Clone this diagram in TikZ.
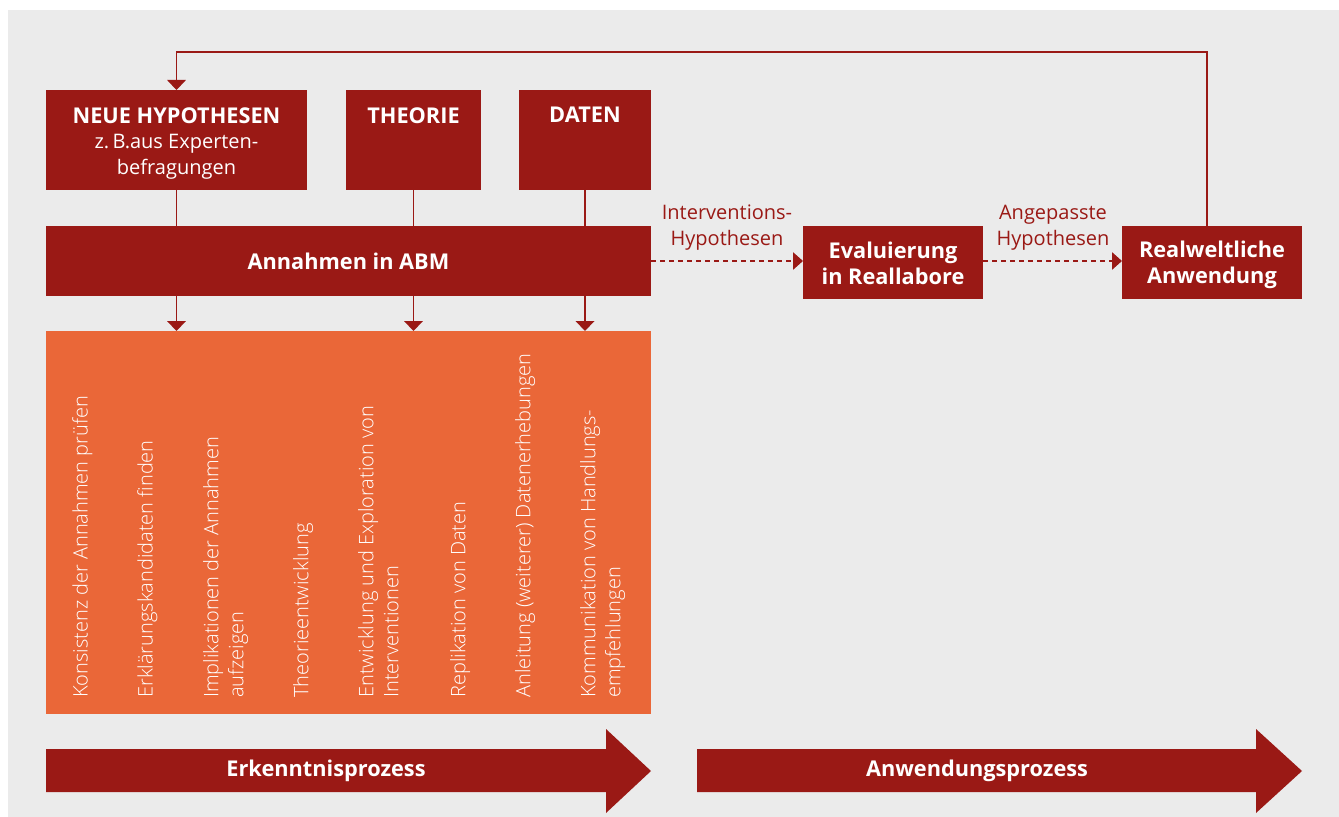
\documentclass[tikz,border=0pt]{standalone}
\usepackage{fontspec}
\setmainfont{Open Sans}
\newfontfamily\lightfont{Open Sans Light}
\usetikzlibrary{arrows.meta,fit}
\definecolor{abmred}{HTML}{9A1915}
\definecolor{abmorange}{HTML}{EA6738}
\definecolor{abmgray}{HTML}{EBEBEB}
\begin{document}
\begin{tikzpicture}[x=0.75pt,y=-0.75pt,
  redbox/.style={fill=abmred,draw=none,inner sep=0pt,outer sep=0pt},
  orangebox/.style={fill=abmorange,draw=none,inner sep=0pt,outer sep=0pt},
  boldtext/.style={text=white,inner sep=0pt,align=center,
    font=\fontsize{16.3}{19.5}\selectfont\bfseries},
  subtext/.style={text=white,inner sep=0pt,align=center,
    font=\fontsize{15}{19.5}\selectfont},
  edgetext/.style={text=abmred,inner sep=0pt,align=center,
    font=\fontsize{15}{19.5}\selectfont},
  vtext/.style={text=white,inner sep=0pt,align=left,rotate=90,anchor=north west,
    font=\lightfont\fontsize{15}{18.75}\selectfont},
  link/.style={draw=abmred,line width=1.1pt},
  feedback/.style={draw=abmred,line width=0.9pt},
  tip/.style={-{Triangle[width=14pt,length=7.5pt]}},
  dashlink/.style={draw=abmred,line width=1.2pt,dash pattern=on 3.75pt off 3pt,
    -{Triangle[width=13pt,length=7.5pt]}},
  bigarrow/.style={fill=abmred,draw=none}]

% canvas and grey panel
\useasboundingbox (0,0) rectangle (1339,817);
\fill[white] (0,0) rectangle (1339,817);
\fill[abmgray] (8,10) rectangle (1339,817);

% top row of sources
\node[redbox,fit={(46,90) (307,190)}] (nh) {};
\node[redbox,fit={(346,90) (481,190)}] (th) {};
\node[redbox,fit={(519,90) (651,190)}] (da) {};
\node[boldtext,anchor=north] (nhtitle) at (nh.center |- 0,107) {NEUE HYPOTHESEN};
\node[subtext,anchor=north] (nhsub) at (nh.center |- 0,134) {z.\,B.aus Experten-\\befragungen};
\node[boldtext,anchor=north] (thtitle) at (th.center |- 0,107) {THEORIE};
\node[boldtext,anchor=north] (datitle) at (da.center |- 0,107) {DATEN};

% assumptions bar
\node[redbox,fit={(46,226) (651,296)}] (abm) {};
\node[boldtext] (abmtitle) at (348.5,261) {Annahmen in ABM};

% application boxes
\node[redbox,fit={(803,226) (983,299)}] (ev) {};
\node[boldtext] (evtitle) at (893,263.5) {Evaluierung\\in Reallabore};
\node[redbox,fit={(1122,226) (1302,299)}] (rw) {};
\node[boldtext] (rwtitle) at (1212,265) {Realweltliche\\Anwendung};

% orange block of uses
\node[orangebox,fit={(46,331) (651,714)}] (uses) {};
\node[vtext] (u1) at (72,698) {Konsistenz der Annahmen prüfen};
\node[vtext] (u2) at (137,698) {Erklärungskandidaten finden};
\node[vtext] (u3) at (203,698) {Implikationen der Annahmen\\aufzeigen};
\node[vtext] (u4) at (293,698) {Theorieentwicklung};
\node[vtext] (u5) at (358,698) {Entwicklung und Exploration von\\Interventionen};
\node[vtext] (u6) at (450,698) {Replikation von Daten};
\node[vtext] (u7) at (515,698) {Anleitung (weiterer) Datenerhebungen};
\node[vtext] (u8) at (580,698) {Kommunikation von Handlungs-\\empfehlungen};

% sources feed the assumptions
\draw[link] (nh.south) -- (abm.north -| nh.south);
\draw[link] (th.south) -- (abm.north -| th.south);
\draw[link] (da.south) -- (abm.north -| da.south);
% assumptions feed the uses
\draw[link,tip] (abm.south -| nh.south) -- (uses.north -| nh.south);
\draw[link,tip] (abm.south -| th.south) -- (uses.north -| th.south);
\draw[link,tip] (abm.south -| da.south) -- (uses.north -| da.south);

% dashed chain to application
\draw[dashlink] (abm.east |- 0,261) -- (ev.west |- 0,261);
\draw[dashlink] (ev.east |- 0,261) -- (rw.west |- 0,261);
\node[edgetext] (l1) at (727,227.5) {Interventions-\\Hypothesen};
\node[edgetext] (l2) at (1053,227.5) {Angepasste\\Hypothesen};

% feedback loop back to new hypotheses
\coordinate (fbx) at (1207,0);
\draw[feedback,tip] (rw.north -| fbx) -- ++(0,-174) -| (nh.north);

% process arrows
\fill[bigarrow] (46,749) -- (606,749) -- (606,729) -- (651,771) -- (606,813)
  -- (606,792) -- (46,792) -- cycle;
\node[boldtext] (p1) at (326,771) {Erkenntnisprozess};
\fill[bigarrow] (697,749) -- (1256,749) -- (1256,729) -- (1302,771) -- (1256,813)
  -- (1256,792) -- (697,792) -- cycle;
\node[boldtext] (p2) at (977,771) {Anwendungsprozess};
\end{tikzpicture}
\end{document}
